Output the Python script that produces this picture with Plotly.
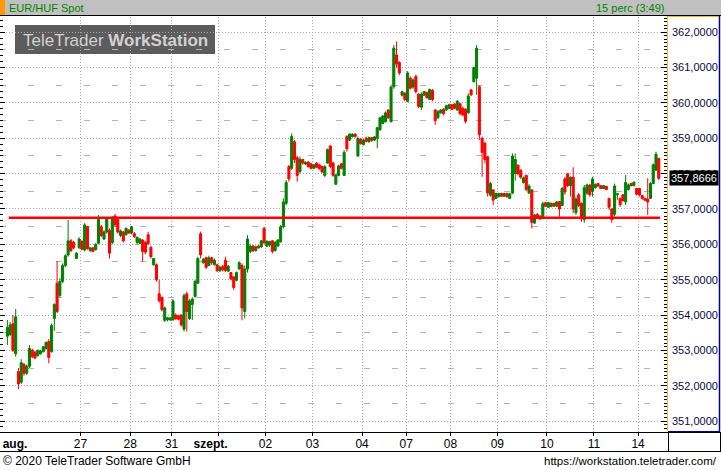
import plotly.graph_objects as go

# ---------------- data ----------------
day_labels = ["27", "28", "31", "szept.", "02", "03", "04", "07", "08", "09", "10", "11", "14"]
day_start = [27, 45, 60, 77, 94, 111, 129, 145, 161, 178, 196, 213, 229]
month_labels = {"aug.": 0, "szept.": 3}

opens = [
    353.40, 353.45, 353.75, 352.90, 352.40, 352.10, 352.60, 352.35, 352.55, 353.00,
    352.95, 352.85, 352.90, 352.96, 353.05, 353.25, 352.96, 353.90, 354.90, 354.55,
    354.95, 355.40, 355.70, 356.10, 356.06, 355.60, 355.90, 356.08, 355.84, 356.50,
    355.82, 355.90, 355.85, 356.03, 356.50, 356.15, 356.35, 356.40, 356.05, 356.80,
    356.70, 356.25, 356.35, 356.27, 356.40, 356.32, 356.30, 356.05, 356.03, 356.12,
    356.05, 356.27, 355.92, 355.42, 355.42, 354.60, 354.50, 353.85, 353.86, 353.86,
    353.86, 354.00, 353.98, 354.00, 353.60, 354.60, 353.90, 354.30, 354.52, 354.90,
    356.30, 355.48, 355.62, 355.40, 355.62, 355.42, 355.42, 355.25, 355.37, 355.55,
    355.24, 355.20, 355.08, 354.98, 355.30, 355.40, 354.10, 355.30, 355.80, 355.95,
    355.82, 355.95, 355.93, 356.45, 355.95, 355.98, 356.10, 355.82, 355.95, 356.07,
    356.50, 357.16, 358.20, 358.15, 358.90, 358.45, 358.06, 358.40, 358.27, 358.33,
    358.28, 358.15, 358.30, 358.25, 358.20, 357.95, 358.30, 358.78, 358.30, 357.70,
    357.95, 358.28, 357.95, 359.05, 358.95, 359.05, 359.12, 358.50, 358.98, 358.82,
    359.00, 358.90, 359.02, 358.95, 359.00, 359.24, 359.42, 359.47, 359.80, 359.47,
    360.46, 361.36, 361.15, 360.22, 360.28, 360.05, 360.70, 360.45, 360.75, 360.25,
    359.88, 360.22, 360.30, 360.10, 360.36, 359.80, 359.58, 359.72, 359.82, 359.80,
    359.85, 359.95, 359.97, 359.80, 359.98, 359.85, 359.82, 359.72, 360.37, 360.60,
    360.70, 360.46, 359.00, 358.86, 358.48, 357.39, 357.54, 357.30, 357.35, 357.44,
    357.36, 357.44, 357.30, 357.45, 358.00, 358.24, 358.10, 357.75, 357.95, 357.45,
    357.54, 356.60, 356.85, 356.80, 356.78, 357.18, 357.05, 357.07, 357.16, 357.08,
    357.21, 357.10, 357.85, 358.00, 357.66, 357.90, 356.90, 357.40, 357.16, 356.70,
    357.45, 357.68, 357.50, 357.60, 357.72, 357.66, 357.58, 357.64, 357.30, 357.00,
    356.85, 357.40, 357.30, 357.40, 357.20, 357.55, 357.72, 357.66, 357.58, 357.58,
    357.38, 357.30, 357.28, 357.30, 357.72, 358.10, 358.43,
]
highs = [
    353.86, 353.80, 354.00, 354.17, 352.50, 352.75, 352.65, 352.60, 353.15, 353.05,
    352.98, 353.02, 353.02, 353.12, 353.25, 353.32, 353.76, 354.33, 355.53, 355.04,
    355.46, 355.72, 356.69, 356.15, 356.10, 355.78, 356.20, 356.12, 356.60, 356.52,
    355.92, 355.92, 356.03, 356.83, 356.55, 356.40, 356.76, 356.45, 356.80, 356.86,
    356.75, 356.42, 356.38, 356.48, 356.43, 356.52, 356.35, 356.22, 356.18, 356.15,
    356.10, 356.35, 355.95, 355.62, 355.46, 355.00, 354.52, 354.24, 353.95, 353.93,
    354.45, 354.05, 354.00, 354.02, 354.61, 354.66, 354.45, 354.50, 354.99, 355.65,
    356.36, 355.62, 355.65, 355.68, 355.65, 355.60, 355.45, 355.40, 355.42, 355.65,
    355.42, 355.22, 355.10, 355.23, 355.52, 355.46, 355.40, 356.26, 356.00, 355.98,
    355.96, 355.98, 356.12, 356.50, 356.12, 356.10, 356.12, 356.10, 356.15, 356.55,
    357.30, 357.82, 358.25, 359.14, 358.95, 358.50, 358.48, 358.42, 358.35, 358.35,
    358.30, 358.27, 358.32, 358.28, 358.23, 358.24, 358.71, 358.81, 358.34, 358.00,
    358.25, 358.30, 358.67, 359.09, 359.14, 359.14, 359.14, 359.05, 359.00, 358.98,
    359.05, 359.05, 359.04, 359.06, 359.33, 359.61, 359.66, 359.76, 359.82, 360.51,
    361.64, 361.74, 361.18, 360.35, 360.30, 360.90, 360.75, 360.70, 360.80, 360.27,
    360.30, 360.34, 360.32, 360.41, 360.40, 359.82, 359.80, 359.82, 359.85, 359.95,
    359.98, 359.97, 359.99, 360.08, 360.00, 359.90, 359.85, 360.27, 360.40, 361.03,
    361.64, 360.50, 359.05, 358.90, 358.50, 357.77, 357.56, 357.46, 357.46, 357.46,
    357.46, 357.46, 357.46, 358.57, 358.57, 358.26, 358.12, 357.92, 357.97, 357.70,
    357.56, 356.86, 356.88, 356.82, 357.21, 357.20, 357.20, 357.18, 357.18, 357.22,
    357.23, 357.63, 357.91, 358.01, 357.92, 358.18, 357.35, 357.45, 357.18, 357.68,
    357.72, 357.70, 357.91, 357.72, 357.74, 357.68, 357.68, 357.66, 357.32, 357.02,
    357.72, 357.45, 357.32, 357.42, 357.96, 357.72, 357.74, 357.78, 357.60, 357.60,
    357.40, 357.32, 357.87, 357.77, 358.29, 358.62, 358.45,
]
lows = [
    353.15, 353.40, 352.95, 352.82, 351.90, 352.05, 352.28, 352.30, 352.50, 352.78,
    352.75, 352.82, 352.88, 352.94, 353.02, 352.63, 352.94, 353.55, 354.05, 354.50,
    354.90, 355.35, 355.65, 355.78, 355.86, 355.58, 355.88, 355.83, 355.80, 355.85,
    355.78, 355.78, 355.82, 356.00, 356.20, 356.12, 356.30, 355.60, 356.00, 356.50,
    356.30, 356.20, 356.05, 356.25, 356.30, 356.28, 356.18, 355.98, 356.00, 355.51,
    355.72, 355.98, 355.60, 355.40, 354.94, 354.35, 354.10, 353.80, 353.82, 353.84,
    353.85, 353.86, 353.85, 353.67, 353.53, 353.53, 353.86, 353.86, 354.50, 354.88,
    355.60, 355.45, 355.30, 355.38, 355.42, 355.40, 355.22, 355.22, 355.23, 355.22,
    355.22, 354.98, 354.71, 354.95, 355.28, 353.85, 353.90, 355.20, 355.75, 355.78,
    355.80, 355.88, 355.90, 356.00, 355.92, 355.93, 355.74, 355.80, 355.93, 356.05,
    356.45, 357.10, 357.77, 358.10, 358.30, 357.77, 358.00, 358.25, 358.25, 358.17,
    358.12, 358.12, 358.15, 358.10, 358.02, 357.90, 358.28, 358.15, 357.91, 357.68,
    357.92, 358.12, 357.94, 358.62, 358.93, 359.02, 359.02, 358.48, 358.82, 358.80,
    358.88, 358.88, 358.90, 358.92, 358.72, 359.22, 359.40, 359.45, 359.55, 359.45,
    360.40, 361.00, 360.79, 360.18, 360.05, 360.02, 360.38, 360.40, 360.27, 359.85,
    359.80, 360.20, 360.12, 360.08, 360.05, 359.38, 359.55, 359.70, 359.65, 359.78,
    359.82, 359.80, 359.82, 359.78, 359.65, 359.62, 359.42, 359.70, 360.20, 360.58,
    360.23, 358.95, 357.91, 358.29, 357.35, 357.35, 357.11, 357.28, 357.33, 357.34,
    357.34, 357.32, 357.28, 357.42, 357.80, 357.95, 357.85, 357.72, 357.50, 357.42,
    356.45, 356.58, 356.72, 356.68, 356.76, 357.06, 357.03, 357.05, 357.06, 357.06,
    356.78, 357.08, 357.40, 357.62, 357.35, 356.88, 356.83, 357.05, 356.64, 356.61,
    357.40, 357.35, 357.35, 357.58, 357.62, 357.56, 357.56, 357.53, 356.97, 356.61,
    356.80, 357.26, 357.06, 357.20, 357.11, 357.52, 357.64, 357.64, 357.38, 357.35,
    357.26, 357.22, 356.83, 357.28, 357.70, 358.08, 357.82,
]
closes = [
    353.65, 353.72, 353.00, 353.95, 352.05, 352.65, 352.35, 352.55, 353.05, 352.82,
    352.78, 353.00, 352.98, 353.10, 353.22, 352.80, 353.70, 354.30, 354.10, 354.95,
    355.40, 355.68, 356.10, 355.82, 355.90, 355.75, 356.15, 355.86, 356.55, 355.88,
    355.90, 355.80, 356.00, 356.70, 356.25, 356.35, 356.72, 355.75, 356.75, 356.55,
    356.35, 356.38, 356.10, 356.45, 356.32, 356.50, 356.22, 356.20, 356.15, 355.80,
    355.78, 356.02, 355.65, 355.60, 355.00, 354.40, 354.15, 354.20, 353.92, 353.92,
    354.40, 353.90, 353.88, 353.72, 354.55, 354.10, 354.40, 354.45, 354.95, 355.60,
    355.70, 355.58, 355.35, 355.62, 355.48, 355.55, 355.25, 355.35, 355.28, 355.26,
    355.38, 355.02, 354.78, 355.20, 355.48, 354.20, 355.30, 356.15, 355.95, 355.82,
    355.93, 355.90, 356.10, 356.05, 356.08, 356.08, 355.80, 356.05, 356.12, 356.50,
    357.20, 357.75, 357.85, 359.05, 358.40, 357.95, 358.40, 358.30, 358.32, 358.20,
    358.15, 358.25, 358.18, 358.15, 358.05, 358.20, 358.68, 358.20, 357.95, 357.96,
    358.22, 358.15, 358.60, 358.70, 359.12, 359.12, 359.05, 359.00, 358.85, 358.95,
    358.92, 359.02, 358.94, 359.04, 359.30, 359.58, 359.63, 359.72, 359.58, 360.45,
    361.55, 361.10, 360.85, 360.32, 360.10, 360.85, 360.42, 360.65, 360.32, 359.90,
    360.25, 360.32, 360.15, 360.38, 360.10, 359.50, 359.75, 359.80, 359.70, 359.92,
    359.95, 359.82, 359.85, 360.05, 359.70, 359.66, 359.48, 360.20, 360.23, 361.00,
    361.55, 359.10, 358.60, 358.40, 357.45, 357.72, 357.25, 357.44, 357.44, 357.36,
    357.44, 357.35, 357.43, 358.50, 358.40, 358.00, 357.90, 357.88, 357.55, 357.65,
    356.62, 356.83, 356.75, 356.72, 357.15, 357.08, 357.18, 357.16, 357.08, 357.20,
    357.00, 357.58, 357.48, 357.66, 357.90, 357.00, 357.28, 357.10, 356.75, 357.60,
    357.68, 357.40, 357.85, 357.70, 357.65, 357.58, 357.66, 357.55, 357.05, 356.70,
    357.65, 357.43, 357.12, 357.24, 357.75, 357.68, 357.66, 357.76, 357.42, 357.40,
    357.30, 357.25, 357.20, 357.72, 358.25, 358.55, 357.8666,
]
support_level = 356.75
instrument = "EUR/HUF Spot"
interval_text = "15 perc (3:49)"
y_min, y_max = 350.689, 362.433

# ---------------- layout geometry (pixels) ----------------
W, H = 721, 470
L, R, T, B = 0, 667, 17, 432
pw, ph = R - L, B - T


def px2x(px):
    return (px - L) / pw


def py2y(py):
    return (B - py) / ph


idx = list(range(len(closes)))
step = 2.76
x_lo = -7.4 / step
x_hi = x_lo + pw / step

GREEN = "#008000"
RED = "#ff0000"
FONT = "Arial, Liberation Sans, sans-serif"

fig = go.Figure()
fig.add_trace(go.Candlestick(
    x=idx, open=opens, high=highs, low=lows, close=closes,
    increasing=dict(line=dict(color=GREEN, width=1), fillcolor=GREEN),
    decreasing=dict(line=dict(color=RED, width=1), fillcolor=RED),
    whiskerwidth=0, hoverinfo="skip", showlegend=False,
))
fig.add_trace(go.Scatter(
    x=[idx[0] + 0.5, idx[-1] + 0.5], y=[support_level, support_level],
    mode="lines", line=dict(color=RED, width=2.5), hoverinfo="skip", showlegend=False,
))
# helper traces for the overlay axes
fig.add_trace(go.Scatter(x=[idx[0]], y=[None], xaxis="x2", yaxis="y", showlegend=False, hoverinfo="skip"))
fig.add_trace(go.Scatter(x=[idx[0]], y=[None], xaxis="x", yaxis="y2", showlegend=False, hoverinfo="skip"))
fig.add_trace(go.Scatter(x=[idx[0]], y=[None], xaxis="x", yaxis="y3", showlegend=False, hoverinfo="skip"))

grid_x = [s - 0.5 for s in day_start]
label_x = list(grid_x)
label_x[month_labels["szept."]] -= 2.9
label_text = [f"<b>{t}</b>" if t in month_labels else t for t in day_labels]
label_x = [2.75] + label_x  # "aug." sits at the left edge
label_text = ["<b>aug.</b>"] + label_text

fig.update_layout(
    width=W, height=H,
    margin=dict(l=L, r=W - R, t=T, b=H - B, pad=0, autoexpand=False),
    paper_bgcolor="white", plot_bgcolor="white",
    separators=", ",
    font=dict(family=FONT, size=11, color="black"),
    boxgap=0.25, boxgroupgap=0.0,
    showlegend=False,
    xaxis=dict(
        range=[x_lo, x_hi], rangeslider=dict(visible=False),
        tickvals=grid_x, showticklabels=False,
        showgrid=True, gridcolor="#a8a8a8", griddash="1px,2px", gridwidth=1,
        ticks="outside", ticklen=3, tickcolor="black",
        showline=True, linecolor="black", linewidth=1,
        zeroline=False, fixedrange=True,
    ),
    xaxis2=dict(
        overlaying="x", side="bottom", range=[x_lo, x_hi],
        tickvals=label_x, ticktext=label_text, ticks="",
        showgrid=False, zeroline=False, showline=False,
        tickfont=dict(family=FONT, size=12, color="black"),
        ticklabelstandoff=3,
    ),
    yaxis=dict(
        side="right", range=[y_min, y_max], tick0=0, dtick=1,
        tickformat=".4f", tickfont=dict(family=FONT, size=11, color="#0a0a40"),
        showgrid=True, gridcolor="#a8a8a8", griddash="1px,2px", gridwidth=1,
        ticks="inside", ticklen=6, tickcolor="black",
        minor=dict(dtick=0.1, ticks="inside", ticklen=3, tickcolor="black", showgrid=False),
        showline=False, zeroline=False, ticklabelstandoff=4,
    ),
    yaxis2=dict(
        overlaying="y", side="left", range=[y_min, y_max], tick0=0, dtick=1,
        showticklabels=False, showgrid=False, zeroline=False, showline=False,
        ticks="inside", ticklen=5, tickcolor="black",
        minor=dict(dtick=1 / 6, ticks="inside", ticklen=3, tickcolor="black", showgrid=False),
    ),
    yaxis3=dict(
        overlaying="y", side="right", range=[y_min, y_max], tick0=0.5, dtick=1,
        showticklabels=False, ticks="", zeroline=False, showline=False,
        showgrid=True, gridcolor="#b4b4b4", griddash="6px,22px", gridwidth=1,
    ),
)

shapes = [
    # header bar
    dict(type="rect", xref="paper", yref="paper", x0=px2x(0), x1=px2x(W), y0=py2y(15), y1=py2y(0),
         fillcolor="#c0c0c0", line=dict(width=0)),
    dict(type="line", xref="paper", yref="paper", x0=px2x(0), x1=px2x(W), y0=py2y(15.5), y1=py2y(15.5),
         line=dict(color="black", width=1)),
    dict(type="rect", xref="paper", yref="paper", x0=px2x(0), x1=px2x(5), y0=py2y(15), y1=py2y(0),
         fillcolor="#ff9900", line=dict(width=0)),
    # watermark box
    dict(type="rect", xref="paper", yref="paper", x0=px2x(15), x1=px2x(215), y0=py2y(54), y1=py2y(25),
         fillcolor="#5c5c5c", line=dict(width=0), layer="below"),
    # right axis frame
    dict(type="line", xref="paper", yref="paper", x0=px2x(667.5), x1=px2x(667.5), y0=py2y(431), y1=py2y(16),
         line=dict(color="#f0b830", width=1)),
    dict(type="line", xref="paper", yref="paper", x0=px2x(667), x1=px2x(720), y0=py2y(16.5), y1=py2y(16.5),
         line=dict(color="#f0b830", width=1)),
    dict(type="line", xref="paper", yref="paper", x0=px2x(719.5), x1=px2x(719.5), y0=py2y(431.5), y1=py2y(16),
         line=dict(color="#000090", width=1.5)),
    dict(type="line", xref="paper", yref="paper", x0=px2x(668), x1=px2x(720), y0=py2y(431.5), y1=py2y(431.5),
         line=dict(color="#000090", width=1)),
    # label row frame
    dict(type="line", xref="paper", yref="paper", x0=px2x(0), x1=px2x(W), y0=py2y(432.5), y1=py2y(432.5),
         line=dict(color="black", width=1)),
    dict(type="line", xref="paper", yref="paper", x0=px2x(0), x1=px2x(W), y0=py2y(451.5), y1=py2y(451.5),
         line=dict(color="black", width=1)),
    dict(type="line", xref="paper", yref="paper", x0=px2x(668.5), x1=px2x(668.5), y0=py2y(451.5), y1=py2y(432),
         line=dict(color="black", width=1)),
    dict(type="line", xref="paper", yref="paper", x0=px2x(720.5), x1=px2x(720.5), y0=py2y(451.5), y1=py2y(432),
         line=dict(color="black", width=1)),
]
fig.update_layout(shapes=shapes)

last_txt = f"{closes[-1]:.4f}".replace(".", ",")
annotations = [
    dict(text=instrument, xref="paper", yref="paper", x=px2x(7), y=py2y(7.5),
         xanchor="left", yanchor="middle", showarrow=False,
         font=dict(family=FONT, size=11, color="#008000")),
    dict(text=interval_text, xref="paper", yref="paper", x=px2x(666), y=py2y(7.5),
         xanchor="right", yanchor="middle", showarrow=False,
         font=dict(family=FONT, size=11, color="#008000")),
    dict(text="TeleTrader <b>WorkStation</b>", xref="paper", yref="paper", x=px2x(115), y=py2y(40),
         xanchor="center", yanchor="middle", showarrow=False,
         font=dict(family=FONT, size=17, color="#d2d2d2")),
    dict(text=last_txt, xref="paper", yref="y", x=px2x(669), y=closes[-1],
         xanchor="left", yanchor="middle", showarrow=False, bgcolor="black", borderpad=1,
         font=dict(family=FONT, size=11, color="white")),
    dict(text="© 2020 TeleTrader Software GmbH", xref="paper", yref="paper", x=px2x(1), y=py2y(461),
         xanchor="left", yanchor="middle", showarrow=False,
         font=dict(family=FONT, size=12, color="black")),
    dict(text="https://workstation.teletrader.com/", xref="paper", yref="paper", x=px2x(719), y=py2y(461),
         xanchor="right", yanchor="middle", showarrow=False,
         font=dict(family=FONT, size=11.5, color="black")),
]
fig.update_layout(annotations=annotations)

fig.write_html(
    "out.html",
    config={"displayModeBar": False, "staticPlot": True},
    post_script="document.body.style.margin='0px';document.body.style.overflow='hidden';",
)
